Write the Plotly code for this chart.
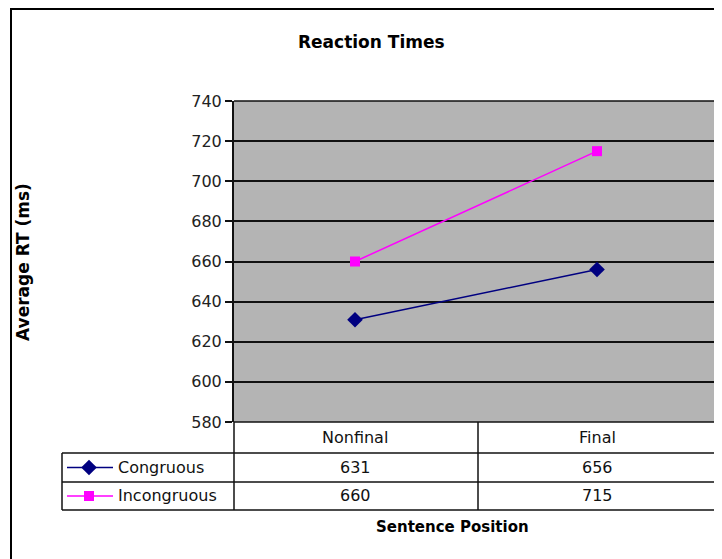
import plotly.graph_objects as go

# ---------------- data ----------------
categories = ["Nonfinal", "Final"]
series_names = ["Congruous", "Incongruous"]
congruous = [631, 656]
incongruous = [660, 715]
y_ticks = [580, 600, 620, 640, 660, 680, 700, 720, 740]

title_text = "Reaction Times"
y_title = "Average RT (ms)"
x_title = "Sentence Position"

# ---------------- layout constants (screen pixels) ----------------
W, H = 722, 559
OFF = 8  # page body margin
def px(x):
    return (x - OFF) / W
def py(y):
    return 1 - (y - OFF) / H

PLOT_L, PLOT_R, PLOT_T, PLOT_B = 234, 718, 101, 422
ROW1, ROW2, ROW3 = 453, 482, 510
TBL_L = 62
COL_MID = 478

colors = {"Congruous": "#000080", "Incongruous": "#ff00ff"}
symbols = {"Congruous": "diamond", "Incongruous": "square"}
msize = {"Congruous": 12, "Incongruous": 10}
values = {"Congruous": congruous, "Incongruous": incongruous}

FONT = "DejaVu Sans"

fig = go.Figure()

for name in series_names:
    fig.add_trace(go.Scatter(
        x=categories, y=values[name], mode="lines+markers", name=name,
        line=dict(color=colors[name], width=1.5),
        marker=dict(symbol=symbols[name], size=msize[name], color=colors[name]),
        xaxis="x", yaxis="y", showlegend=False, hoverinfo="skip",
    ))

# legend keys inside the data table (overlay pixel axes)
row_centers = {"Congruous": (ROW1 + ROW2) / 2, "Incongruous": (ROW2 + ROW3) / 2}
for name in series_names:
    yc = row_centers[name]
    fig.add_trace(go.Scatter(
        x=[67, 113], y=[yc, yc], mode="lines",
        line=dict(color=colors[name], width=1.5),
        xaxis="x2", yaxis="y2", showlegend=False, hoverinfo="skip",
    ))
    fig.add_trace(go.Scatter(
        x=[89], y=[yc], mode="markers",
        marker=dict(symbol=symbols[name], size=msize[name], color=colors[name]),
        xaxis="x2", yaxis="y2", showlegend=False, hoverinfo="skip",
    ))

shapes = []
shapes.append(dict(type="rect", xref="x domain", yref="y domain", x0=0, x1=1, y0=0, y1=1,
                   fillcolor="#b4b4b4", line=dict(width=0), layer="below"))
shapes.append(dict(type="rect", xref="paper", yref="paper", x0=px(11), x1=1.2, y0=-0.2, y1=py(9),
                   line=dict(color="black", width=2), fillcolor="rgba(0,0,0,0)"))
line_style = dict(color="#111111", width=1.5)
shapes.append(dict(type="line", xref="paper", yref="paper", x0=px(PLOT_L), x1=px(PLOT_R),
                   y0=py(PLOT_T), y1=py(PLOT_T), line=line_style))
shapes.append(dict(type="line", xref="paper", yref="paper", x0=px(PLOT_L), x1=px(PLOT_R),
                   y0=py(PLOT_B), y1=py(PLOT_B), line=line_style))
for yy in (ROW1, ROW2, ROW3):
    shapes.append(dict(type="line", xref="paper", yref="paper", x0=px(TBL_L), x1=px(PLOT_R),
                       y0=py(yy), y1=py(yy), line=line_style))
shapes.append(dict(type="line", xref="paper", yref="paper", x0=px(TBL_L), x1=px(TBL_L),
                   y0=py(ROW1), y1=py(ROW3), line=line_style))
for xx in (PLOT_L, COL_MID, PLOT_R):
    shapes.append(dict(type="line", xref="paper", yref="paper", x0=px(xx), x1=px(xx),
                       y0=py(PLOT_B), y1=py(ROW3), line=line_style))

annotations = []
def ann(**kw):
    base = dict(showarrow=False, xanchor="center", yanchor="middle")
    base.update(kw)
    annotations.append(base)

ann(text=title_text, xref="paper", yref="paper", x=px(371), y=py(42),
    font=dict(family=FONT, size=17, color="black", weight="bold"))
ann(text=y_title, xref="paper", yref="paper", x=px(23), y=py(262), textangle=-90,
    font=dict(family=FONT, size=17, color="black", weight="bold"))
ann(text=x_title, xref="paper", yref="paper", x=px(452), y=py(527),
    font=dict(family=FONT, size=15, color="black", weight="bold"))
cell_font = dict(family=FONT, size=16, color="#111111")
for c in categories:
    ann(text=c, xref="x", yref="paper", x=c, y=py((PLOT_B + ROW1) / 2), font=cell_font)
for name in series_names:
    yc = row_centers[name]
    ann(text=name, xref="paper", yref="paper", x=px(116), y=py(yc), xanchor="left", font=cell_font)
    for c, v in zip(categories, values[name]):
        ann(text=str(v), xref="x", yref="paper", x=c, y=py(yc), font=cell_font)

fig.update_layout(
    width=W, height=H,
    margin=dict(l=0, r=0, t=0, b=0, pad=0, autoexpand=False),
    paper_bgcolor="white", plot_bgcolor="rgba(0,0,0,0)",
    showlegend=False,
    xaxis=dict(domain=[px(PLOT_L), px(PLOT_R)], type="category", range=[-0.5, 1.5],
               showticklabels=False, showgrid=False, zeroline=False, showline=False,
               ticks="", anchor="y", fixedrange=True),
    yaxis=dict(domain=[py(PLOT_B), py(PLOT_T)], range=[580, 740], tickvals=y_ticks,
               ticks="outside", ticklen=7, tickwidth=1.5, tickcolor="#111111",
               showline=True, linecolor="#111111", linewidth=2,
               showgrid=True, gridcolor="#111111", gridwidth=1.5, zeroline=False,
               tickfont=dict(family=FONT, size=16, color="#222222"), anchor="x",
               fixedrange=True),
    xaxis2=dict(domain=[0, 1], range=[OFF, W + OFF], visible=False, anchor="y2", fixedrange=True),
    yaxis2=dict(domain=[0, 1], range=[H + OFF, OFF], visible=False, anchor="x2", fixedrange=True),
    shapes=shapes,
    annotations=annotations,
)

fig.write_html("out.html")
